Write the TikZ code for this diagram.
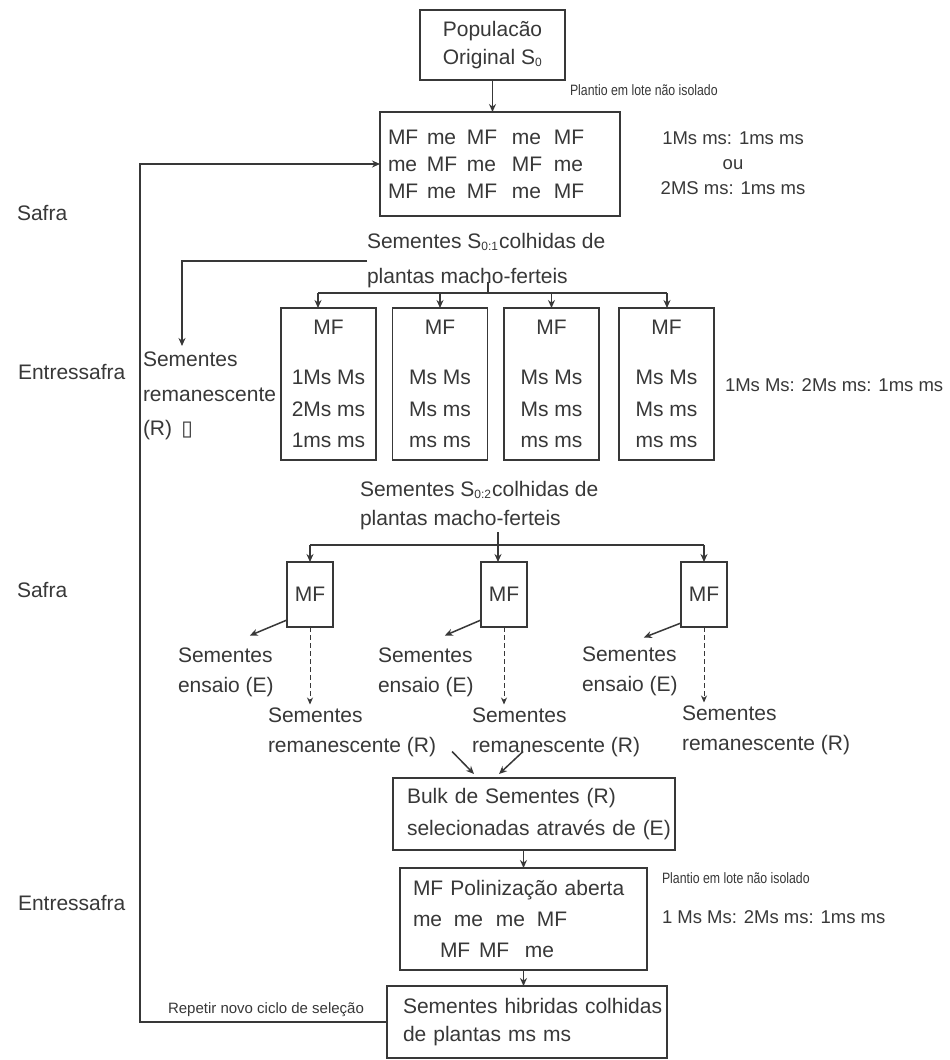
\documentclass[tikz,border=0pt]{standalone}
\usepackage{fontspec}
\setmainfont{Liberation Sans}
\newfontfamily\narrowfont{Liberation Sans}[FakeStretch=0.82]
\newfontfamily\symbfont{DejaVu Sans}
\usetikzlibrary{arrows.meta,calc}
\definecolor{ink}{HTML}{383838}
\newcommand{\cl}[2]{\makebox[#1][l]{#2}}
\newcommand{\lowidx}[1]{\raisebox{-2pt}{\fontsize{12}{12}\selectfont #1}}
\tikzset{
  every node/.style={text=ink, inner sep=0pt, outer sep=0pt},
  txt/.style={font=\fontsize{21}{#1}\selectfont, align=left},
  txt/.default=27,
  notetxt/.style={font=\fontsize{18.5}{25}\selectfont},
  smallnote/.style={font=\narrowfont\fontsize{15}{18}\selectfont},
  reptxt/.style={font=\fontsize{15}{18}\selectfont},
  box/.style={draw=ink, line width=1.7pt},
  cbox/.style={box, txt=31.5, align=center, minimum width=95pt, minimum height=152pt},
  mbox/.style={box, txt, align=center, minimum width=46pt, minimum height=65pt},
  plain/.style={draw=ink, line width=1.5pt},
  arr/.style={draw=ink, line width=1.5pt, -{Stealth[length=8pt,width=7pt]}},
  dasharr/.style={draw=ink, line width=0.9pt, dash pattern=on 5pt off 3pt, -{Stealth[length=7pt,width=6pt]}}
}
\begin{document}
\begin{tikzpicture}[x=1pt,y=-1pt]
\useasboundingbox[fill=white] (0,0) rectangle (950,1060);

% season labels
\node[txt, anchor=west] (saf1) at (17,213) {Safra};
\node[txt, anchor=west] (ent1) at (18,372) {Entressafra};
\node[txt, anchor=west] (saf2) at (17,590) {Safra};
\node[txt, anchor=west] (ent2) at (18,903) {Entressafra};

% top population
\node[box, txt=28, minimum width=145pt, minimum height=70pt] (pop) at (492.5,45) {Populacão\\Original S\lowidx{0}};

\node[box, txt=27, minimum width=240pt, minimum height=104pt, text width=224pt, inner xsep=7pt] (grid) at (500,164)
{\cl{39pt}{MF}\cl{40pt}{me}\cl{45pt}{MF}\cl{42pt}{me}MF\\
 \cl{39pt}{me}\cl{40pt}{MF}\cl{45pt}{me}\cl{42pt}{MF}me\\
 \cl{39pt}{MF}\cl{40pt}{me}\cl{45pt}{MF}\cl{42pt}{me}MF};

\node[smallnote, anchor=west] (pl1) at (570,90) {Plantio em lote não isolado};
\node[notetxt, align=center] (rat1) at (733,163) {1Ms ms: 1ms ms\\ou\\2MS ms: 1ms ms};

% S0:1
\node[txt=35, anchor=west] (s01) at (367,261) {Sementes S\lowidx{0:1}\kern1pt colhidas de\\plantas macho-ferteis};
\node[txt=34.5, anchor=west] (rem1) at (143,396) {Sementes\\remanescente\\(R)\ \,{\symbfont\fontsize{21}{21}\selectfont ▯}};

\node[cbox] (c1) at (328.5,384) {MF\\[19pt]1Ms Ms\\2Ms ms\\1ms ms};
\node[cbox] (c2) at (440,384) {MF\\[19pt]Ms Ms\\Ms ms\\ms ms};
\node[cbox] (c3) at (551.5,384) {MF\\[19pt]Ms Ms\\Ms ms\\ms ms};
\node[cbox] (c4) at (666.5,384) {MF\\[19pt]Ms Ms\\Ms ms\\ms ms};
\node[notetxt, anchor=west] (rat2) at (725,385) {1Ms Ms: 2Ms ms: 1ms ms};

% S0:2
\node[txt=29, anchor=west] (s02) at (360,506) {Sementes S\lowidx{0:2}\kern1pt colhidas de\\plantas macho-ferteis};
\node[mbox] (m1) at (310,594.5) {MF};
\node[mbox] (m2) at (504,594.5) {MF};
\node[mbox] (m3) at (704,594.5) {MF};

\node[txt=30, anchor=west] (e1) at (178,672) {Sementes\\ensaio (E)};
\node[txt=30, anchor=west] (e2) at (378,672) {Sementes\\ensaio (E)};
\node[txt=30, anchor=west] (e3) at (582,671) {Sementes\\ensaio (E)};
\node[txt=30, anchor=west] (r1) at (268,732) {Sementes\\remanescente (R)};
\node[txt=30, anchor=west] (r2) at (472,732) {Sementes\\remanescente (R)};
\node[txt=30, anchor=west] (r3) at (682,730) {Sementes\\remanescente (R)};

% bulk and crossing
\node[box, txt=32, minimum width=282pt, minimum height=72pt, text width=254pt, inner xsep=14pt] (bulk) at (534,814)
{Bulk de Sementes (R)\\\mbox{selecionadas através de (E)}};
\node[box, txt=31, minimum width=247pt, minimum height=102pt, text width=221pt, inner xsep=13pt] (pol) at (523.5,919)
{MF Polinização aberta\\\cl{41pt}{me}\cl{42pt}{me}\cl{41pt}{me}MF\\\hspace*{27pt}\cl{39pt}{MF}\cl{46pt}{MF}me};
\node[smallnote, anchor=west] (pl2) at (662,878) {Plantio em lote não isolado};
\node[notetxt, anchor=west] (rat3) at (662,917) {1 Ms Ms: 2Ms ms: 1ms ms};

\node[box, txt=28, minimum width=280pt, minimum height=72pt, text width=248pt, inner xsep=16pt] (hib) at (527,1022)
{\mbox{Sementes hibridas colhidas}\\de plantas ms ms};
\node[reptxt, anchor=west] (rep) at (168,1010) {Repetir novo ciclo de seleção};

% connectors
\draw[arr] (pop.south) -- (pop.south |- grid.north);
\coordinate (lp) at (140,0);
\draw[arr] (hib.west) -- (hib.west -| lp) -- (lp |- grid.west) -- (grid.west);
\draw[arr, shorten >=6pt] (s01.west) -| ($(rem1.north west)+(39,0)$);

\coordinate (j0) at (488,282);
\coordinate (j1) at (488,293);
\coordinate (bl) at (318,293);
\coordinate (br) at (667,293);
\draw[plain] (j0) -- (j1);
\draw[plain] (bl) -- (br);
\draw[arr] (bl) -- (bl |- c1.north);
\draw[arr] (c2.north |- bl) -- (c2.north);
\draw[arr] (c3.north |- bl) -- (c3.north);
\draw[arr] (br) -- (br |- c4.north);

\coordinate (j2) at (498,532);
\coordinate (j3) at (498,545);
\coordinate (bl2) at (310,545);
\coordinate (br2) at (704,545);
\draw[plain] (j2) -- (j3);
\draw[plain] (bl2) -- (br2);
\draw[arr] (bl2) -- (bl2 |- m1.north);
\draw[arr] (j3) -- (j3 |- m2.north);
\draw[arr] (br2) -- (br2 |- m3.north);

\draw[arr] ([yshift=7pt]m1.south west) -- ($(e1.north)+(24,-12)$);
\draw[arr] ([yshift=7pt]m2.south west) -- ($(e2.north)+(19,-12)$);
\draw[arr] ([yshift=4pt]m3.south west) -- ($(e3.north)+(14,-9)$);
\draw[dasharr, shorten >=3pt] (m1.south) -- (m1.south |- r1.north);
\draw[dasharr, shorten >=3pt] (m2.south) -- (m2.south |- r2.north);
\draw[dasharr, shorten >=3pt] (m3.south) -- (m3.south |- r3.north);

\draw[arr] ($(r1.south east)+(16,-5)$) -- ($(bulk.north)+(-60,-4)$);
\draw[arr] ($(r2.south)+(-33,-5)$) -- ($(bulk.north)+(-35,-4)$);
\draw[arr] (bulk.south -| pol.north) -- (pol.north);
\draw[arr] (pol.south) -- (pol.south |- hib.north);
\end{tikzpicture}
\end{document}
